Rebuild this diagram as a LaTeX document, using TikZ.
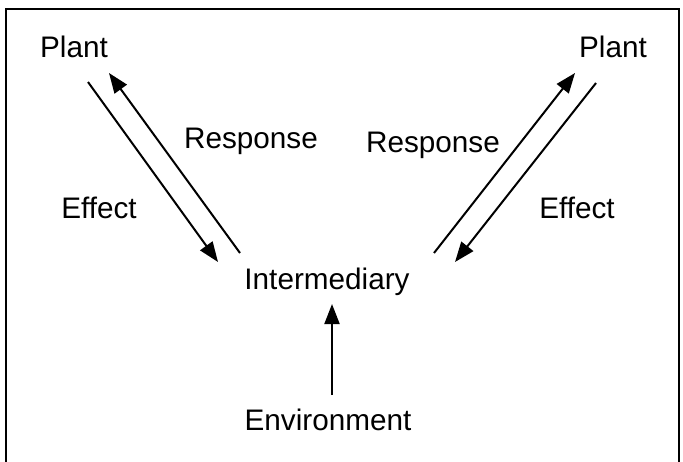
\documentclass[tikz,border=0pt]{standalone}
\usepackage{fontspec}
\setmainfont{Liberation Sans}
\usetikzlibrary{arrows.meta}

\begin{document}
\begin{tikzpicture}[
  x=0.5pt, y=-0.5pt, font=\fontsize{14.85}{18}\selectfont,
  lbl/.style = {anchor=base, inner sep=0pt},
  ar/.style  = {-{Triangle[length=10pt,width=7.5pt]}, line width=1pt},
]
  \useasboundingbox (0,0) rectangle (683,461);
  \clip (0,0) rectangle (683,461);

  % ---- frame ------------------------------------------------
  \draw[line width=1pt] (6,9) rectangle (679,480);

  % ---- labels -----------------------------------------------
  \node[lbl] (plantL) at ( 74,  57) {Plant};
  \node[lbl] (plantR) at (613,  57) {Plant};
  \node[lbl] (respL)  at (251, 148) {Response};
  \node[lbl] (respR)  at (433, 152) {Response};
  \node[lbl] (effL)   at ( 99, 218) {Effect};
  \node[lbl] (effR)   at (577, 218) {Effect};
  \node[lbl] (inter)  at (327, 289) {Intermediary};
  \node[lbl] (env)    at (328, 430) {Environment};

  % ---- arrow ends -------------------------------------------
  \coordinate (pL-out) at ( 88,  82);
  \coordinate (pL-in)  at (109,  73);
  \coordinate (pR-in)  at (575,  73);
  \coordinate (pR-out) at (596,  83);
  \coordinate (iL-in)  at (218, 262);
  \coordinate (iL-out) at (240, 253);
  \coordinate (iR-out) at (434, 253);
  \coordinate (iR-in)  at (455, 262);
  \coordinate (iB-in)  at (332, 304);
  \coordinate (eT-out) at (332, 395);

  % ---- arrows -----------------------------------------------
  \draw[ar] (pL-out) -- (iL-in);
  \draw[ar] (iL-out) -- (pL-in);
  \draw[ar] (iR-out) -- (pR-in);
  \draw[ar] (pR-out) -- (iR-in);
  \draw[ar] (eT-out) -- (iB-in);

\end{tikzpicture}
\end{document}
